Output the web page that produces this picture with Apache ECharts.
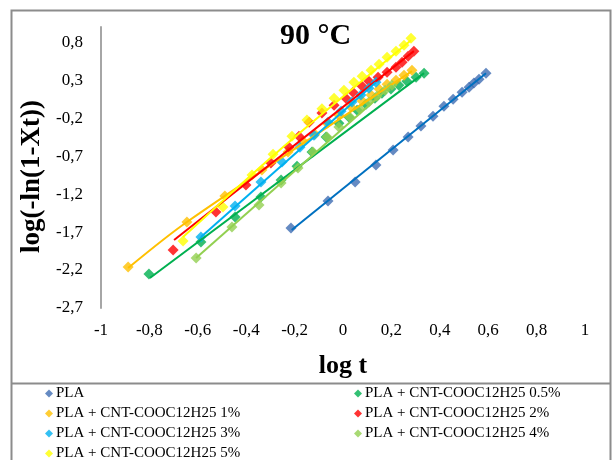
<!DOCTYPE html>
<html><head><meta charset="utf-8">
<script src="https://cdn.jsdelivr.net/npm/echarts@6/dist/echarts.min.js"></script>
<style>html,body{margin:0;padding:0;background:#fff}#c{width:616px;height:460px}</style>
</head><body><div id="c"></div>
<script>
// ---- data ----
const seriesNames = ['PLA','PLA + CNT-COOC12H25 0.5%','PLA + CNT-COOC12H25 1%','PLA + CNT-COOC12H25 2%','PLA + CNT-COOC12H25 3%','PLA + CNT-COOC12H25 4%','PLA + CNT-COOC12H25 5%'];

const plaX  = [-0.215,-0.062,0.050,0.136,0.207,0.269,0.322,0.372,0.417,0.455,0.492,0.521,0.541,0.562,0.591];
const plaY  = [-1.648,-1.292,-1.042,-0.818,-0.621,-0.450,-0.305,-0.174,-0.042,0.050,0.142,0.208,0.261,0.313,0.392];

const c05X = [-0.802,-0.587,-0.446,-0.339,-0.256,-0.190,-0.128,-0.070,-0.017,0.025,0.058,0.095,0.132,0.161,0.198,0.231,0.264,0.302,0.335];
const c05Y = [-2.253,-1.832,-1.503,-1.239,-1.016,-0.832,-0.647,-0.450,-0.266,-0.187,-0.095,-0.016,0.063,0.129,0.182,0.234,0.287,0.339,0.392];

const c1X = [-0.888,-0.645,-0.488,-0.335,-0.227,-0.165,-0.116,-0.066,-0.017,0.033,0.079,0.116,0.149,0.182,0.219,0.252,0.285];
const c1Y = [-2.161,-1.568,-1.226,-0.884,-0.647,-0.503,-0.411,-0.266,-0.161,-0.055,0.024,0.103,0.182,0.247,0.300,0.366,0.432];

const c2X = [-0.702,-0.525,-0.401,-0.298,-0.223,-0.182,-0.140,-0.087,-0.037,0.012,0.041,0.079,0.107,0.145,0.182,0.219,0.244,0.269,0.293];
const c2Y = [-1.937,-1.437,-1.082,-0.792,-0.582,-0.437,-0.253,-0.134,-0.029,0.063,0.142,0.221,0.287,0.339,0.405,0.471,0.537,0.616,0.682];

const c3X = [-0.587,-0.446,-0.339,-0.252,-0.178,-0.120,-0.062,-0.008,0.037,0.074,0.107,0.136];
const c3Y = [-1.766,-1.358,-1.042,-0.779,-0.582,-0.424,-0.253,-0.108,0.011,0.103,0.195,0.274];

const c4X = [-0.607,-0.459,-0.347,-0.256,-0.186,-0.124,-0.066,-0.017,0.029,0.070,0.107,0.140,0.174,0.202];
const c4Y = [-2.042,-1.634,-1.345,-1.055,-0.858,-0.647,-0.450,-0.318,-0.187,-0.082,0.011,0.089,0.168,0.234];

const c5X = [-0.661,-0.496,-0.376,-0.289,-0.211,-0.149,-0.087,-0.037,0.004,0.045,0.079,0.116,0.149,0.182,0.219,0.252,0.281];
const c5Y = [-1.818,-1.371,-0.950,-0.674,-0.437,-0.226,-0.075,0.063,0.168,0.274,0.353,0.432,0.511,0.603,0.682,0.761,0.853];

// fitted lines
const fitPlaX = [-0.212, 0.591];         const fitPlaY = [-1.674, 0.392];
const fit05X  = [-0.798, 0.335];         const fit05Y  = [-2.305, 0.392];
const fit1X   = [-0.888,-0.645, 0.285];  const fit1Y   = [-2.174,-1.568, 0.418];
const fit2X   = [-0.698, 0.293];         const fit2Y   = [-1.805, 0.682];
const fit3X   = [-0.587, 0.136];         const fit3Y   = [-1.766, 0.274];
const fit4X   = [-0.607, 0.202];         const fit4Y   = [-2.042, 0.234];
const fit5X   = [-0.661,-0.277, 0.281];  const fit5Y   = [-1.766,-0.661, 0.826];

const xTicks = [-1,-0.8,-0.6,-0.4,-0.2,0,0.2,0.4,0.6,0.8,1];
const yTicks = [-2.7,-2.2,-1.7,-1.2,-0.7,-0.2,0.3,0.8];

// ---- styling ----
const markerColors = ['#3E6DB3','#00B050','#FFC000','#FF0000','#00B0F0','#92D050','#FFFF00'];
const lineColors   = ['#0070C0','#00B050','#FFC000','#FF0000','#00B0F0','#92D050','#FFFF00'];
const pts = [[plaX,plaY],[c05X,c05Y],[c1X,c1Y],[c2X,c2Y],[c3X,c3Y],[c4X,c4Y],[c5X,c5Y]];
const fits = [[fitPlaX,fitPlaY],[fit05X,fit05Y],[fit1X,fit1Y],[fit2X,fit2Y],[fit3X,fit3Y],[fit4X,fit4Y],[fit5X,fit5Y]];
const zip = (a,b) => a.map((v,i)=>[v,b[i]]);
const fmt = v => { const r = Math.round(v*10)/10; return (Object.is(r,-0)?0:r).toString().replace('.', ','); };
const serif = 'Liberation Serif, Times New Roman, serif';

const series = [];
const order = [0,1,2,5,4,3,6];
order.forEach(i => {
  series.push({ name: seriesNames[i], type: 'scatter', data: zip(pts[i][0], pts[i][1]),
    symbol: 'diamond', symbolSize: 11, itemStyle: { color: markerColors[i] }, z: 2 + i*0.01, animation: false });
});
order.forEach(i => {
  series.push({ name: seriesNames[i] + ' fit', type: 'line', data: zip(fits[i][0], fits[i][1]),
    showSymbol: false, symbol: 'none', smooth: 0.3, lineStyle: { color: lineColors[i], width: 2 }, z: 3 + i*0.01, animation: false, silent: true });
});

const legendPos = [
  { left: 45, top: 386 }, { left: 354, top: 386 },
  { left: 45, top: 406 }, { left: 354, top: 406 },
  { left: 45, top: 426 }, { left: 354, top: 426 },
  { left: 45, top: 446 }
];
const legends = seriesNames.map((nm,k) => ({
  data: [{ name: nm, icon: 'diamond', itemStyle: { color: markerColors[k] } }],
  left: legendPos[k].left, top: legendPos[k].top, itemWidth: 8, itemHeight: 8, itemGap: 0, padding: 0,
  textStyle: { fontFamily: serif, fontSize: 15, color: '#000', padding: [0,0,0,-2] }, selectedMode: false
}));

const chart = echarts.init(document.getElementById('c'), null, { renderer: 'canvas' });
chart.setOption({
  backgroundColor: '#fff',
  animation: false,
  title: { text: '90 °C', left: 275, top: 16, textStyle: { fontFamily: serif, fontWeight: 'bold', fontSize: 30, color: '#000' } },
  legend: legends,
  grid: { left: 101, right: 31, top: 27, bottom: 152, containLabel: false },
  xAxis: { type: 'value', min: xTicks[0], max: xTicks[xTicks.length-1], interval: 0.2,
    name: 'log t', nameLocation: 'middle', nameGap: 45,
    nameTextStyle: { fontFamily: serif, fontWeight: 'bold', fontSize: 26, color: '#000' },
    axisLine: { show: false, onZero: false }, axisTick: { show: false }, splitLine: { show: false },
    axisLabel: { formatter: fmt, fontFamily: serif, fontSize: 17, color: '#000', margin: 14, showMinLabel: true, showMaxLabel: true, hideOverlap: false } },
  yAxis: { type: 'value', min: yTicks[0], max: 1.0, interval: 0.5,
    name: 'log(-ln(1-Xt))', nameLocation: 'middle', nameGap: 52,
    nameTextStyle: { fontFamily: serif, fontWeight: 'bold', fontSize: 27, color: '#000', padding: [0, 18, 0, 0] },
    axisLine: { show: true, onZero: false, lineStyle: { color: '#A6A6A6', width: 2 } }, axisTick: { show: false }, splitLine: { show: false },
    axisLabel: { formatter: fmt, fontFamily: serif, fontSize: 17, color: '#000', margin: 18, showMaxLabel: false, hideOverlap: false } },
  graphic: [
    { type: 'rect', shape: { x: 11.5, y: 10.5, width: 599, height: 480 }, style: { fill: 'none', stroke: '#8C8C8C', lineWidth: 2 }, z: 100, silent: true },
    { type: 'line', shape: { x1: 11.5, y1: 383.5, x2: 610.5, y2: 383.5 }, style: { stroke: '#8C8C8C', lineWidth: 2 }, z: 100, silent: true }
  ],
  series: series
});
</script></body></html>
